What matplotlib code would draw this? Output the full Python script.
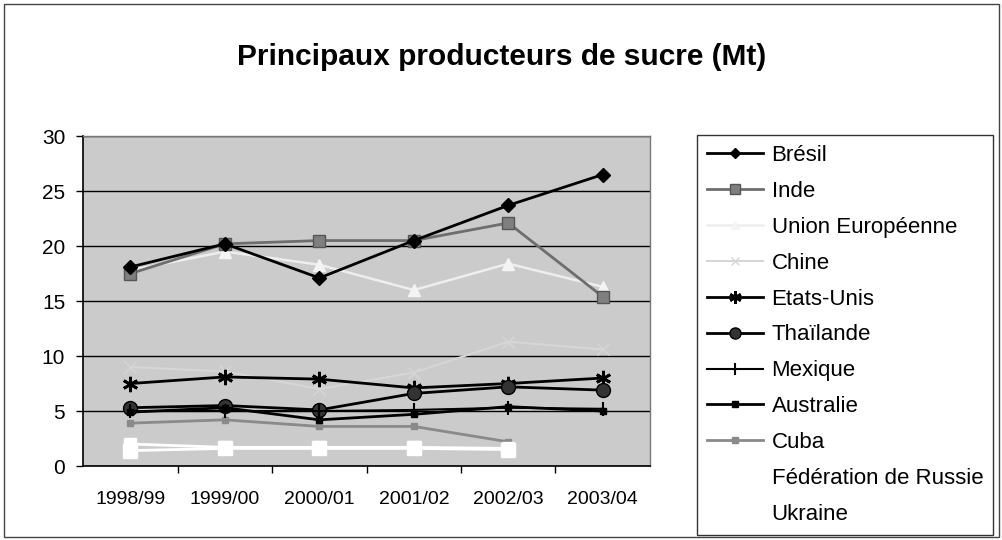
import numpy as np
import matplotlib
matplotlib.use('Agg')
import matplotlib.pyplot as plt
from matplotlib.patches import Rectangle

plt.rcParams['font.family'] = ['Liberation Sans', 'DejaVu Sans']

campagnes = ['1998/99', '1999/00', '2000/01', '2001/02', '2002/03', '2003/04']

bresil = [18.1, 20.2, 17.1, 20.5, 23.7, 26.5]
inde = [17.5, 20.2, 20.5, 20.5, 22.1, 15.4]
ue = [17.8, 19.5, 18.3, 16.0, 18.4, 16.3]
chine = [9.0, 8.6, 7.0, 8.5, 11.3, 10.6]
etats_unis = [7.5, 8.1, 7.9, 7.1, 7.5, 8.0]
thailande = [5.3, 5.5, 5.1, 6.6, 7.2, 6.9]
mexique = [5.0, 5.0, 5.0, 5.1, 5.3, 5.2]
australie = [4.9, 5.3, 4.2, 4.7, 5.4, 5.0]
cuba = [3.9, 4.2, 3.6, 3.6, 2.2]
russie = [1.4, 1.6, 1.6, 1.6, 1.5]
ukraine = [2.0, 1.7, 1.7, 1.7, 1.6]

fig = plt.figure(figsize=(10.03, 5.40), dpi=100)
ax = fig.add_axes([0.083, 0.137, 0.565, 0.611])
ax.set_facecolor('#cbcbcb')

x = np.arange(len(campagnes))

ax.plot(x, bresil, color='black', lw=2, marker='D', ms=7, mfc='black', mec='black', label='Brésil', zorder=5)
ax.plot(x, inde, color='#6e6e6e', lw=2, marker='s', ms=9, mfc='#7f7f7f', mec='#555555', label='Inde', zorder=4)
ax.plot(x, ue, color='#eeeeee', lw=1.8, marker='^', ms=8, mfc='#f4f4f4', mec='#f4f4f4', label='Union Européenne', zorder=3)
ax.plot(x, chine, color='#d6d6d6', lw=1.5, marker='x', ms=8, mec='#d6d6d6', label='Chine', zorder=2)
ax.plot(x, etats_unis, color='black', lw=2, marker=(6, 2, 0), ms=11, mec='black', mew=2, label='Etats-Unis', zorder=5)
ax.plot(x, thailande, color='black', lw=2, marker='o', ms=10, mfc='#333333', mec='black', label='Thaïlande', zorder=5)
ax.plot(x, mexique, color='black', lw=1.5, marker='|', ms=10, mec='black', mew=1.5, label='Mexique', zorder=5)
ax.plot(x, australie, color='black', lw=2, marker='s', ms=5, mfc='black', mec='black', label='Australie', zorder=5)
ax.plot(x[:len(cuba)], cuba, color='#8a8a8a', lw=2, marker='s', ms=5, mfc='#8a8a8a', mec='#8a8a8a', label='Cuba', zorder=3)
ax.plot(x[:len(russie)], russie, color='white', lw=2, marker='s', ms=10, mfc='white', mec='white', label='Fédération de Russie', zorder=3)
ax.plot(x[:len(ukraine)], ukraine, color='white', lw=2, marker='s', ms=8, mfc='white', mec='white', label='Ukraine', zorder=3)

ax.set_xlim(-0.5, len(campagnes) - 0.5)
ax.set_ylim(0, 30)
ax.set_yticks(np.arange(0, 31, 5))
ax.yaxis.grid(True, color='black', lw=1)
ax.set_axisbelow(True)

ax.set_xticks(x)
ax.set_xticklabels(campagnes, fontsize=14)
ax.set_xticks(np.arange(0.5, len(campagnes) - 0.5, 1), minor=True)
ax.tick_params(axis='x', which='major', length=0, pad=18)
ax.tick_params(axis='x', which='minor', length=5, width=1, direction='out')
ax.tick_params(axis='y', labelsize=15, length=5, width=1, direction='out', pad=8)

for side in ['left', 'bottom']:
    ax.spines[side].set_color('black')
    ax.spines[side].set_linewidth(1.2)
for side in ['top', 'right']:
    ax.spines[side].set_color('#777777')
    ax.spines[side].set_linewidth(1)

fig.text(0.5, 0.895, 'Principaux producteurs de sucre (Mt)', ha='center', va='center',
         fontsize=21.5, fontweight='bold')

leg = fig.legend(loc='upper left', bbox_to_anchor=(0.695, 0.75), borderaxespad=0,
                 frameon=True, fancybox=False, edgecolor='black', fontsize=16,
                 handlelength=2.5, handletextpad=0.4, labelspacing=0.67,
                 borderpad=0.45, markerscale=0.8)
leg.get_frame().set_linewidth(1)

fig.patches.append(Rectangle((0.004, 0.006), 0.992, 0.986, transform=fig.transFigure,
                             fill=False, edgecolor='#444444', lw=1))

fig.savefig('out.png', dpi=100)
